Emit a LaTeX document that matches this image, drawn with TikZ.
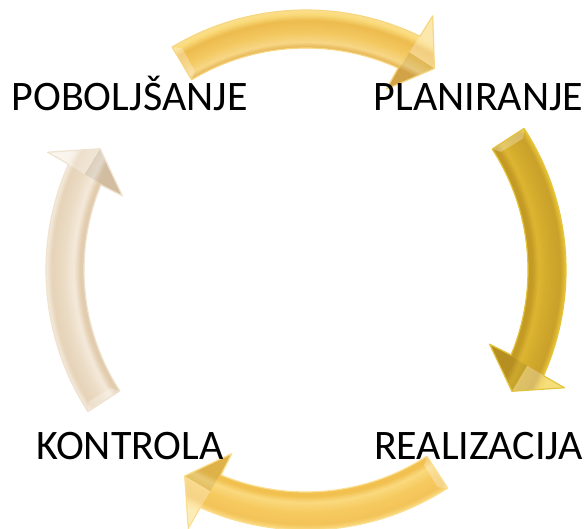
\documentclass[tikz,border=0pt]{standalone}
\usepackage{fontspec}
\setmainfont{Carlito}
% palette A (top)
\definecolor{aIn}{HTML}{E3B04C}\definecolor{aHi}{HTML}{F7D685}\definecolor{aMid}{HTML}{F3C860}
\definecolor{aDk}{HTML}{EDBB4E}\definecolor{aHiB}{HTML}{F9D978}\definecolor{aOut}{HTML}{FCE08E}
% palette B (right)
\definecolor{bIn}{HTML}{C39A24}\definecolor{bHi}{HTML}{DDB531}\definecolor{bMid}{HTML}{D2AA2C}
\definecolor{bDk}{HTML}{C9A02A}\definecolor{bHiB}{HTML}{EDC936}\definecolor{bOut}{HTML}{F3D447}
% palette C (bottom)
\definecolor{cIn}{HTML}{F1C04F}\definecolor{cHi}{HTML}{FAD97E}\definecolor{cMid}{HTML}{F6CA60}
\definecolor{cDk}{HTML}{F3C358}\definecolor{cHiB}{HTML}{FBDC85}\definecolor{cOut}{HTML}{FDE59C}
% palette D (left)
\definecolor{dIn}{HTML}{E2CCAE}\definecolor{dHi}{HTML}{F4E9DA}\definecolor{dMid}{HTML}{EBDCC5}
\definecolor{dDk}{HTML}{E6D3B8}\definecolor{dHiB}{HTML}{F5ECDF}\definecolor{dOut}{HTML}{F8F1E6}
\pgfdeclareradialshading{shA}{\pgfpointorigin}{color(0bp)=(aIn); color(18.5bp)=(aIn); color(19bp)=(aHi); color(19.8bp)=(aMid); color(20.8bp)=(aDk); color(21.3bp)=(aHiB); color(21.7bp)=(aOut); color(50bp)=(aOut)}
\pgfdeclareradialshading{shB}{\pgfpointorigin}{color(0bp)=(bIn); color(18.5bp)=(bIn); color(19bp)=(bHi); color(19.8bp)=(bMid); color(20.8bp)=(bDk); color(21.3bp)=(bHiB); color(21.7bp)=(bOut); color(50bp)=(bOut)}
\pgfdeclareradialshading{shC}{\pgfpointorigin}{color(0bp)=(cIn); color(18.5bp)=(cIn); color(19bp)=(cHi); color(19.8bp)=(cMid); color(20.8bp)=(cDk); color(21.3bp)=(cHiB); color(21.7bp)=(cOut); color(50bp)=(cOut)}
\pgfdeclareradialshading{shD}{\pgfpointorigin}{color(0bp)=(dIn); color(18.5bp)=(dIn); color(19bp)=(dHi); color(19.8bp)=(dMid); color(20.8bp)=(dDk); color(21.3bp)=(dHiB); color(21.7bp)=(dOut); color(50bp)=(dOut)}
\tikzset{
  cycshape/.style={insert path={(121:260pt) arc[start angle=121,end angle=64,radius=260pt]
     -- (63.5:284pt) -- (57.5:239pt) -- (66:198pt) -- (65.5:222pt)
     arc[start angle=65.5,end angle=121,radius=222pt] -- cycle}},
  facetlight/.style={fill=white, fill opacity=0.28},
  facetdark/.style={fill=black, fill opacity=0.07},
  lbl/.style={font=\fontsize{42pt}{48pt}\selectfont, inner sep=0pt, anchor=base, text=black}
}
\newcommand\cycarrow[4]{%
  \begin{scope}[shift={(C)},rotate=#1]
    \begin{scope}
      \clip[cycshape];
      \shade[shading=#2] (0,0) circle (300pt);
    \end{scope}
    % head facets
    \fill[facetlight] (63.5:284pt) -- (57.5:239pt) -- (64.6:241pt) -- cycle;
    \fill[facetdark] (66:198pt) -- (57.5:239pt) -- (64.6:241pt) -- cycle;
    % tail bevel
    \fill[facetlight] (121:260pt) -- (121:222pt) -- (119.2:228pt) -- (119.2:254pt) -- cycle;
    \draw[#3, line width=1.2pt, line join=round, cycshape];
    \coordinate (#4) at (90:241pt);
  \end{scope}}
\begin{document}
\begin{tikzpicture}[x=1pt,y=1pt]
\useasboundingbox (0,0) rectangle (587,-529);
\coordinate (C) at (306,-270);
\cycarrow{0}{shA}{aOut!80!aIn}{arT}
\cycarrow{-88}{shB}{bOut!70!bIn}{arR}
\cycarrow{-178}{shC}{cOut!80!cIn}{arB}
\cycarrow{92}{shD}{dOut!60!dIn}{arL}
\node[lbl] (pob) at (129.5,-111) {POBOLJŠANJE};
\node[lbl] (plan) at (478.5,-111) {PLANIRANJE};
\node[lbl] (kon) at (130,-460) {KONTROLA};
\node[lbl] (real) at (478.5,-460) {REALIZACIJA};
\end{tikzpicture}
\end{document}
